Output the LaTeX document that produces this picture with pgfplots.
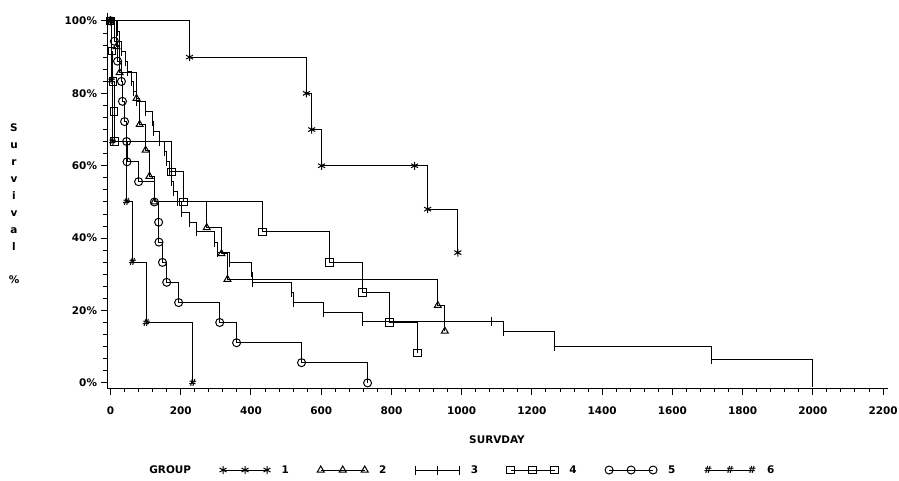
\documentclass[border=0pt]{standalone}
\usepackage{fontspec}
\setmainfont{DejaVu Sans}
\usepackage{pgfplots}
\pgfplotsset{compat=1.18}

\begin{document}
\begin{tikzpicture}[font=\fontsize{10.5}{12}\selectfont\bfseries]
\path[use as bounding box] (0bp,0bp) rectangle (899bp,-481bp);
\begin{axis}[
    at={(107bp,-388bp)}, anchor=south west,
    scale only axis, width=781bp, height=375bp,
    xmin=-10, xmax=2214, ymin=-1.4, ymax=102.2,
    axis lines=left, axis line style={-, line width=1bp},
    tick align=outside, major tick length=6.5bp, minor tick length=4bp,
    every tick/.style={black, line width=1bp},
    xtick={0,200,...,2200}, minor x tick num=4,
    ytick={0,20,...,100}, minor y tick num=5,
    yticklabel={\pgfmathprintnumber{\tick}\%},
    /pgf/number format/assume math mode=true,
    /pgf/number format/1000 sep={},
    xticklabel style={yshift=-9bp},
    every axis plot/.append style={black, line width=1bp, const plot, mark options={solid}},
    legend columns=-1,
    legend cell align=left,
    legend style={at={(0.4487,-0.2187)}, anchor=center, draw=none, fill=none,
        /tikz/every odd column/.append style={column sep=9bp},
        /tikz/every even column/.append style={column sep=26.5bp}},
    legend image code/.code={\draw[mark repeat=1,#1] plot coordinates {(0bp,0bp) (22bp,0bp) (44bp,0bp)};},
]
\addlegendimage{empty legend}
\addlegendentry{GROUP\hspace{5.5bp}}

% group 1
\addplot[mark=asterisk, mark size=4bp] coordinates {
 (0,100) (225,90) (558,80) (573,70) (601,60) (866,60) (903,48) (989,36)
};
\addlegendentry{1}

% group 2
\addplot[mark=triangle, mark size=4bp] coordinates {
 (0,100) (17,92.9) (26,85.7) (74,78.6) (83,71.4) (100,64.3) (111,57.1) (125,50)
 (274,42.9) (316,35.7) (333,28.6) (932,21.4) (952,14.3)
};
\addlegendentry{2}

% group 3
\addplot[mark=|, mark size=4.5bp] coordinates {
 (0,100) (20,97.2) (26,94.4) (31,91.7) (43,88.9) (48,86.1) (60,83.3) (66,80.6)
 (74,77.8) (100,75) (120,72.2) (122,69.4) (140,66.7) (154,63.9) (160,61.1)
 (168,58.3) (174,55.6) (179,52.8) (191,50) (202,47.2) (225,44.4) (245,41.7)
 (296,38.9) (305,36.1) (339,33.3) (402,30.6) (405,27.8) (516,25) (521,22.2)
 (607,19.4) (718,17) (1085,17) (1120,14.1) (1265,10.2) (1712,6.4) (2000,0)
};
\addlegendentry{3}

% group 4
\addplot[mark=square, mark size=3.8bp] coordinates {
 (0,100) (4,91.7) (7,83.3) (10,75) (12,66.7) (174,58.3) (208,50) (433,41.7)
 (624,33.3) (718,25) (795,16.7) (875,8.3)
};
\addlegendentry{4}

% group 5
\addplot[mark=o, mark size=4bp] coordinates {
 (0,100) (11,94.4) (20,88.9) (31,83.3) (34,77.8) (40,72.2) (46,66.7) (47,61.1)
 (80,55.6) (125,50) (137,44.4) (138,38.9) (148,33.3) (160,27.8) (194,22.2)
 (311,16.7) (359,11.1) (544,5.6) (732,0)
};
\addlegendentry{5}

% group 6
\addplot[mark=text, text mark={\fontsize{10}{10}\selectfont\bfseries\#}] coordinates {
 (0,100) (3,83.3) (6,66.7) (46,50) (63,33.3) (102,16.7) (234,0)
};
\addlegendentry{6}
\end{axis}
\node at (497bp,-440bp) {SURVDAY};
\node[align=center, inner sep=0pt, font=\fontsize{10.5}{17}\selectfont\bfseries] at (14bp,-187bp) {S\\u\\r\\v\\i\\v\\a\\l};
\node at (14bp,-280bp) {\%};
\end{tikzpicture}
\end{document}
